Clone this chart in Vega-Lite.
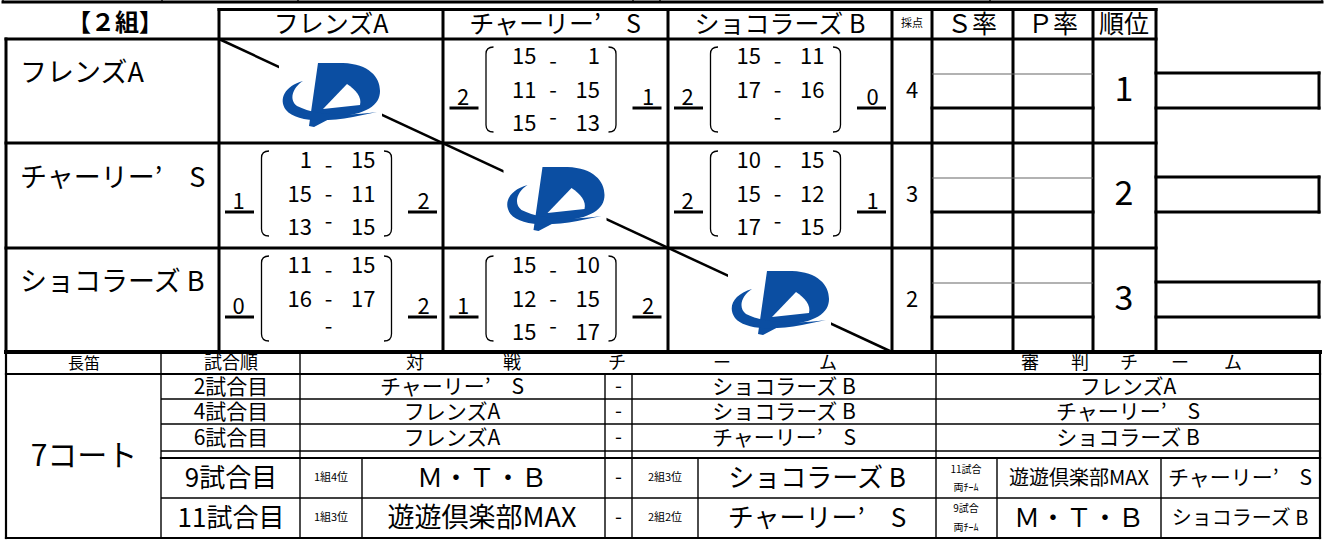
{
"$schema": "https://vega.github.io/schema/vega-lite/v6.json",
"width": 1325, "height": 540, "padding": 0, "autosize": {"type": "none"},
"background": "white",
"config": {"view": {"stroke": null}, "text": {"font": "Noto Sans CJK JP", "baseline": "middle", "color": "black"}},
"datasets": {
"thick3": [
{"x":3,"y":2,"x2":1322,"y2":2},
{"x":219,"y":9.5,"x2":1156,"y2":9.5},
{"x":6,"y":39,"x2":1156,"y2":39},
{"x":6,"y":143,"x2":1156,"y2":143},
{"x":6,"y":248,"x2":1156,"y2":248},
{"x":6,"y":39,"x2":6,"y2":352},
{"x":219,"y":9.5,"x2":219,"y2":352},
{"x":443,"y":9.5,"x2":443,"y2":352},
{"x":668,"y":9.5,"x2":668,"y2":352},
{"x":892,"y":9.5,"x2":892,"y2":352},
{"x":932,"y":9.5,"x2":932,"y2":352},
{"x":1013,"y":9.5,"x2":1013,"y2":352},
{"x":1093,"y":9.5,"x2":1093,"y2":352},
{"x":1156,"y":9.5,"x2":1156,"y2":352},
{"x":932,"y":108,"x2":1093,"y2":108},
{"x":932,"y":212,"x2":1093,"y2":212},
{"x":932,"y":317,"x2":1093,"y2":317},
{"x":1156,"y":73,"x2":1319,"y2":73},
{"x":1156,"y":108,"x2":1319,"y2":108},
{"x":1319,"y":73,"x2":1319,"y2":108},
{"x":1156,"y":177,"x2":1319,"y2":177},
{"x":1156,"y":212,"x2":1319,"y2":212},
{"x":1319,"y":177,"x2":1319,"y2":212},
{"x":1156,"y":282,"x2":1319,"y2":282},
{"x":1156,"y":317,"x2":1319,"y2":317},
{"x":1319,"y":282,"x2":1319,"y2":317}
],
"thick4": [{"x":6,"y":352,"x2":1320,"y2":352}],
"med": [
{"x":6,"y":352,"x2":6,"y2":538},
{"x":1320,"y":352,"x2":1320,"y2":538},
{"x":6,"y":538,"x2":1320,"y2":538},
{"x":6,"y":374,"x2":1320,"y2":374},
{"x":161,"y":458,"x2":1320,"y2":458}
],
"thin": [
{"x":161,"y":399,"x2":1320,"y2":399},
{"x":161,"y":424,"x2":1320,"y2":424},
{"x":161,"y":451,"x2":1320,"y2":451},
{"x":161,"y":498,"x2":1320,"y2":498},
{"x":161,"y":352,"x2":161,"y2":538},
{"x":300,"y":352,"x2":300,"y2":538},
{"x":362,"y":458,"x2":362,"y2":538},
{"x":605,"y":374,"x2":605,"y2":538},
{"x":632,"y":374,"x2":632,"y2":538},
{"x":698,"y":458,"x2":698,"y2":538},
{"x":936,"y":352,"x2":936,"y2":538},
{"x":997,"y":458,"x2":997,"y2":538},
{"x":1161,"y":458,"x2":1161,"y2":538},
{"x":3,"y":0,"x2":3,"y2":2},
{"x":162,"y":0,"x2":162,"y2":2},
{"x":298,"y":0,"x2":298,"y2":2},
{"x":633,"y":0,"x2":633,"y2":2},
{"x":660,"y":0,"x2":660,"y2":2},
{"x":990,"y":0,"x2":990,"y2":2},
{"x":1322,"y":0,"x2":1322,"y2":2}
],
"gray": [
{"x":932,"y":74,"x2":1093,"y2":74},
{"x":932,"y":178,"x2":1093,"y2":178},
{"x":932,"y":283,"x2":1093,"y2":283}
],
"diag": [{"x":219,"y":39,"x2":892,"y2":352}],
"logos": [{"x":331,"y":95},{"x":555.5,"y":199},{"x":780,"y":303}],
"cells": [
{"x":555.5,"y":91,"l":"2","r":"1"},
{"x":780,"y":91,"l":"2","r":"0"},
{"x":331,"y":195,"l":"1","r":"2"},
{"x":780,"y":195,"l":"2","r":"1"},
{"x":331,"y":300,"l":"0","r":"2"},
{"x":555.5,"y":300,"l":"1","r":"2"}
],
"games": [
{"x":555.5,"y":57,"n":1,"a":"15","b":"1"},
{"x":555.5,"y":91,"n":2,"a":"11","b":"15"},
{"x":555.5,"y":124,"n":3,"a":"15","b":"13"},
{"x":780,"y":57,"n":1,"a":"15","b":"11"},
{"x":780,"y":91,"n":2,"a":"17","b":"16"},
{"x":780,"y":124,"n":3,"a":"","b":""},
{"x":331,"y":161,"n":1,"a":"1","b":"15"},
{"x":331,"y":195,"n":2,"a":"15","b":"11"},
{"x":331,"y":228,"n":3,"a":"13","b":"15"},
{"x":780,"y":161,"n":1,"a":"10","b":"15"},
{"x":780,"y":195,"n":2,"a":"15","b":"12"},
{"x":780,"y":228,"n":3,"a":"17","b":"15"},
{"x":331,"y":266,"n":1,"a":"11","b":"15"},
{"x":331,"y":300,"n":2,"a":"16","b":"17"},
{"x":331,"y":333,"n":3,"a":"","b":""},
{"x":555.5,"y":266,"n":1,"a":"15","b":"10"},
{"x":555.5,"y":300,"n":2,"a":"12","b":"15"},
{"x":555.5,"y":333,"n":3,"a":"15","b":"17"}
],
"title": [{"t":"【２組】","x":115,"y":23}],
"hdr": [
{"t":"フレンズA","x":331,"y":24},
{"t":"チャーリー’　S","x":555,"y":24},
{"t":"ショコラーズ B","x":780,"y":24},
{"t":"Ｓ率","x":972,"y":24},
{"t":"Ｐ率","x":1053,"y":24},
{"t":"順位","x":1124,"y":24}
],
"tiny": [
{"t":"採点","x":912,"y":24},
{"t":"1組4位","x":331,"y":478},
{"t":"1組3位","x":331,"y":518},
{"t":"2組3位","x":665,"y":478},
{"t":"2組2位","x":665,"y":518}
],
"tiny2": [
{"t":"11試合","x":966,"y":470},
{"t":"両ﾁｰﾑ","x":966,"y":488},
{"t":"9試合","x":966,"y":509},
{"t":"両ﾁｰﾑ","x":966,"y":528}
],
"rowLabels": [
{"t":"フレンズA","x":20,"y":72},
{"t":"チャーリー’　S","x":20,"y":177},
{"t":"ショコラーズ B","x":20,"y":281}
],
"pts": [
{"t":"4","x":912,"y":91},
{"t":"3","x":912,"y":195},
{"t":"2","x":912,"y":300}
],
"ranks": [
{"t":"1","x":1124,"y":91},
{"t":"2","x":1124,"y":195},
{"t":"3","x":1124,"y":300}
],
"bHdr": [
{"t":"試合順","x":231,"y":363},
{"t":"対","x":415,"y":363},
{"t":"戦","x":512,"y":363},
{"t":"チ","x":617,"y":363},
{"t":"ー","x":722,"y":363},
{"t":"ム","x":828,"y":363},
{"t":"審","x":1030,"y":363},
{"t":"判","x":1080,"y":363},
{"t":"チ","x":1129,"y":363},
{"t":"ー","x":1180,"y":363},
{"t":"ム","x":1233,"y":363}
],
"s17": [{"t":"長笛","x":84,"y":363}],
"court": [{"t":"7コート","x":84,"y":457}],
"s22": [
{"t":"2試合目","x":231,"y":386.5},
{"t":"4試合目","x":231,"y":411.5},
{"t":"6試合目","x":231,"y":437.5},
{"t":"チャーリー’　S","x":452,"y":386.5},
{"t":"ショコラーズ B","x":784,"y":386.5},
{"t":"フレンズA","x":1128,"y":386.5},
{"t":"フレンズA","x":452,"y":411.5},
{"t":"ショコラーズ B","x":784,"y":411.5},
{"t":"チャーリー’　S","x":1128,"y":411.5},
{"t":"フレンズA","x":452,"y":437.5},
{"t":"チャーリー’　S","x":784,"y":437.5},
{"t":"ショコラーズ B","x":1128,"y":437.5},
{"t":"チャーリー’　S","x":1240,"y":478}
],
"dashes": [
{"t":"-","x":618.5,"y":386.5},
{"t":"-","x":618.5,"y":411.5},
{"t":"-","x":618.5,"y":437.5},
{"t":"-","x":618.5,"y":478},
{"t":"-","x":618.5,"y":518}
],
"s20": [
{"t":"遊遊倶楽部MAX","x":1079,"y":478},
{"t":"ショコラーズ B","x":1240,"y":518}
],
"s26": [
{"t":"9試合目","x":231,"y":478},
{"t":"11試合目","x":231,"y":518},
{"t":"Ｍ・Ｔ・Ｂ","x":482,"y":478},
{"t":"ショコラーズ B","x":817,"y":478},
{"t":"チャーリー’　S","x":817,"y":518},
{"t":"Ｍ・Ｔ・Ｂ","x":1079,"y":518}
],
"s28": [
{"t":"遊遊倶楽部MAX","x":482,"y":518}
]
},
"encoding": {
"x": {"field": "x", "type": "quantitative", "scale": {"domain": [0, 1325], "nice": false, "zero": false}, "axis": null},
"y": {"field": "y", "type": "quantitative", "scale": {"domain": [0, 540], "nice": false, "zero": false, "reverse": true}, "axis": null}
},
"layer": [
{"data": {"name": "thick3"}, "mark": {"type": "rule", "strokeWidth": 3, "color": "black", "strokeCap": "square"}, "encoding": {"x2": {"field": "x2"}, "y2": {"field": "y2"}}},
{"data": {"name": "thick4"}, "mark": {"type": "rule", "strokeWidth": 4, "color": "black", "strokeCap": "square"}, "encoding": {"x2": {"field": "x2"}, "y2": {"field": "y2"}}},
{"data": {"name": "med"}, "mark": {"type": "rule", "strokeWidth": 2.2, "color": "black", "strokeCap": "square"}, "encoding": {"x2": {"field": "x2"}, "y2": {"field": "y2"}}},
{"data": {"name": "thin"}, "mark": {"type": "rule", "strokeWidth": 1.4, "color": "black"}, "encoding": {"x2": {"field": "x2"}, "y2": {"field": "y2"}}},
{"data": {"name": "gray"}, "mark": {"type": "rule", "strokeWidth": 1.2, "color": "#666666"}, "encoding": {"x2": {"field": "x2"}, "y2": {"field": "y2"}}},
{"data": {"name": "diag"}, "mark": {"type": "rule", "strokeWidth": 2.5, "color": "black"}, "encoding": {"x2": {"field": "x2"}, "y2": {"field": "y2"}}},
{"data": {"name": "logos"}, "mark": {"type": "point", "shape": "M -52 -34 L 51 -34 L 51 33 L -52 33 Z", "size": 4, "filled": true, "color": "white", "strokeWidth": 0, "opacity": 1}},
{"data": {"name": "logos"}, "mark": {"type": "point", "shape": "M -13 -32 L 12 -32 C 38 -31 49 -18 49 -4 C 49 10 36 20 2 22 L -17 32 L -22 31 Z", "size": 4, "filled": true, "color": "#0b4ea2", "strokeWidth": 0, "opacity": 1}},
{"data": {"name": "logos"}, "mark": {"type": "point", "shape": "M 16 -11 L -8 14 L 29 10 C 31 2 25 -5 16 -11 Z", "size": 4, "filled": true, "color": "white", "strokeWidth": 0, "opacity": 1}},
{"data": {"name": "logos"}, "mark": {"type": "point", "shape": "M -28 -14 C -46 -9 -53 4 -45 15 C -36 26 -10 28 22 22 L 46 17 C 20 21 -15 21 -34 11 C -42 5 -39 -7 -28 -14 Z", "size": 4, "filled": true, "color": "#0b4ea2", "strokeWidth": 0, "opacity": 1}},
{"data": {"name": "cells"}, "mark": {"type": "point", "shape": "M -62 -44 Q -69.5 -44 -69.5 -37 L -69.5 34 Q -69.5 41 -62 41 M 53 -44 Q 60.5 -44 60.5 -37 L 60.5 34 Q 60.5 41 53 41", "size": 4, "filled": false, "color": "black", "strokeWidth": 1.3, "opacity": 1}},
{"data": {"name": "cells"}, "mark": {"type": "point", "shape": "M -106 17 L -77 17 M 77 17 L 106 17", "size": 4, "filled": false, "color": "black", "strokeWidth": 3, "opacity": 1, "strokeCap": "butt"}},
{"data": {"name": "cells"}, "mark": {"type": "text", "fontSize": 22, "dx": -92.5, "dy": 7}, "encoding": {"text": {"field": "l"}}},
{"data": {"name": "cells"}, "mark": {"type": "text", "fontSize": 22, "dx": 92.5, "dy": 7}, "encoding": {"text": {"field": "r"}}},
{"data": {"name": "games"}, "mark": {"type": "text", "fontSize": 22, "align": "right", "dx": -19}, "encoding": {"text": {"field": "a"}}},
{"data": {"name": "games"}, "mark": {"type": "text", "fontSize": 22, "align": "right", "dx": 44.5}, "encoding": {"text": {"field": "b"}}},
{"data": {"name": "games"}, "transform": [{"filter": "datum.n == 1"}], "mark": {"type": "text", "fontSize": 22, "dx": -2.5, "dy": 5, "text": "-"}},
{"data": {"name": "games"}, "transform": [{"filter": "datum.n == 2"}], "mark": {"type": "text", "fontSize": 22, "dx": -2.5, "text": "-"}},
{"data": {"name": "games"}, "transform": [{"filter": "datum.n == 3"}], "mark": {"type": "text", "fontSize": 22, "dx": -2.5, "dy": -6, "text": "-"}},
{"data": {"name": "title"}, "mark": {"type": "text", "fontSize": 24, "fontWeight": "bold", "dy": 1}, "encoding": {"text": {"field": "t"}}},
{"data": {"name": "hdr"}, "mark": {"type": "text", "fontSize": 25, "dy": 1}, "encoding": {"text": {"field": "t"}}},
{"data": {"name": "tiny"}, "mark": {"type": "text", "fontSize": 11}, "encoding": {"text": {"field": "t"}}},
{"data": {"name": "tiny2"}, "mark": {"type": "text", "fontSize": 10}, "encoding": {"text": {"field": "t"}}},
{"data": {"name": "rowLabels"}, "mark": {"type": "text", "fontSize": 27, "align": "left", "dy": 2}, "encoding": {"text": {"field": "t"}}},
{"data": {"name": "pts"}, "mark": {"type": "text", "fontSize": 22}, "encoding": {"text": {"field": "t"}}},
{"data": {"name": "ranks"}, "mark": {"type": "text", "fontSize": 34}, "encoding": {"text": {"field": "t"}}},
{"data": {"name": "bHdr"}, "mark": {"type": "text", "fontSize": 18, "dy": 1}, "encoding": {"text": {"field": "t"}}},
{"data": {"name": "s17"}, "mark": {"type": "text", "fontSize": 16, "dy": 1}, "encoding": {"text": {"field": "t"}}},
{"data": {"name": "court"}, "mark": {"type": "text", "fontSize": 30}, "encoding": {"text": {"field": "t"}}},
{"data": {"name": "s22"}, "mark": {"type": "text", "fontSize": 21, "dy": 1}, "encoding": {"text": {"field": "t"}}},
{"data": {"name": "dashes"}, "mark": {"type": "text", "fontSize": 20}, "encoding": {"text": {"field": "t"}}},
{"data": {"name": "s20"}, "mark": {"type": "text", "fontSize": 20, "dy": 1}, "encoding": {"text": {"field": "t"}}},
{"data": {"name": "s26"}, "mark": {"type": "text", "fontSize": 26, "dy": 1}, "encoding": {"text": {"field": "t"}}},
{"data": {"name": "s28"}, "mark": {"type": "text", "fontSize": 27, "dy": 1}, "encoding": {"text": {"field": "t"}}}
]
}
